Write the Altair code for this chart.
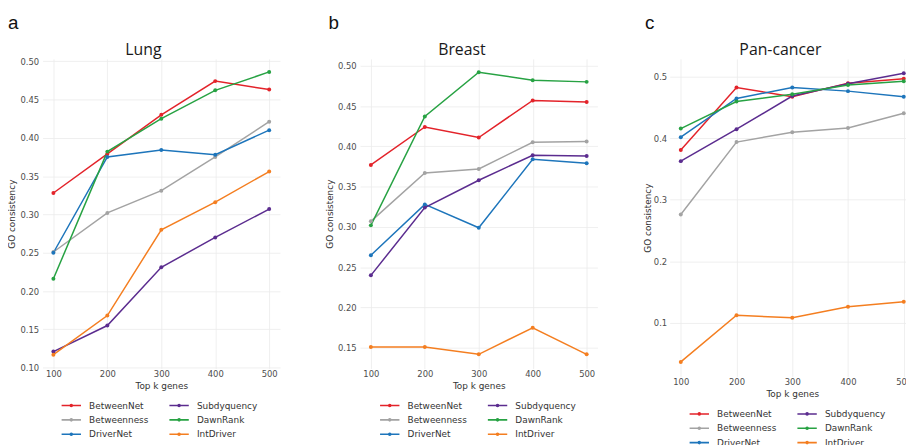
import altair as alt
import pandas as pd

# ---------------- data ----------------
top_k = [100, 200, 300, 400, 500]
methods = ["BetweenNet", "Betweenness", "DriverNet", "Subdyquency", "DawnRank", "IntDriver"]
method_colors = ["#E3232A", "#A3A3A3", "#1D75BB", "#5B2C8F", "#27A243", "#F47E20"]

lung_betweennet = [0.328, 0.379, 0.430, 0.474, 0.463]
lung_betweenness = [0.251, 0.302, 0.331, 0.375, 0.421]
lung_drivernet = [0.250, 0.375, 0.384, 0.378, 0.410]
lung_subdyquency = [0.121, 0.155, 0.231, 0.270, 0.307]
lung_dawnrank = [0.216, 0.382, 0.425, 0.462, 0.486]
lung_intdriver = [0.117, 0.168, 0.280, 0.316, 0.356]

breast_betweennet = [0.377, 0.424, 0.411, 0.457, 0.455]
breast_betweenness = [0.307, 0.367, 0.372, 0.405, 0.406]
breast_drivernet = [0.265, 0.328, 0.299, 0.384, 0.379]
breast_subdyquency = [0.240, 0.324, 0.358, 0.389, 0.388]
breast_dawnrank = [0.302, 0.437, 0.492, 0.482, 0.480]
breast_intdriver = [0.151, 0.151, 0.142, 0.175, 0.142]

pan_betweennet = [0.381, 0.483, 0.468, 0.490, 0.497]
pan_betweenness = [0.276, 0.394, 0.410, 0.417, 0.441]
pan_drivernet = [0.402, 0.465, 0.483, 0.477, 0.468]
pan_subdyquency = [0.363, 0.415, 0.469, 0.489, 0.506]
pan_dawnrank = [0.416, 0.460, 0.472, 0.487, 0.493]
pan_intdriver = [0.036, 0.112, 0.108, 0.126, 0.134]

lung_ticks = [0.10, 0.15, 0.20, 0.25, 0.30, 0.35, 0.40, 0.45, 0.50]
breast_ticks = [0.15, 0.20, 0.25, 0.30, 0.35, 0.40, 0.45, 0.50]
pan_ticks = [0.1, 0.2, 0.3, 0.4, 0.5]

lung = [lung_betweennet, lung_betweenness, lung_drivernet, lung_subdyquency, lung_dawnrank, lung_intdriver]
breast = [breast_betweennet, breast_betweenness, breast_drivernet, breast_subdyquency, breast_dawnrank, breast_intdriver]
pan = [pan_betweennet, pan_betweenness, pan_drivernet, pan_subdyquency, pan_dawnrank, pan_intdriver]

SYMBOL = "M-1.4,0L1.4,0M-0.15,0A0.15,0.15,0,1,1,0.15,0A0.15,0.15,0,1,1,-0.15,0"


def panel(title, letter, series, ydomain, yticks, yfmt, width, height, xdomain,
          legend_x, legend_y, letter_x, title_x, ytitle_pad, ylabel_pad):
    rows = []
    for m, vals in zip(methods, series):
        for k, v in zip(top_k, vals):
            rows.append({"k": k, "method": m, "value": v})
    df = pd.DataFrame(rows)

    x = alt.X("k:Q",
              scale=alt.Scale(domain=xdomain, nice=False, zero=False),
              axis=alt.Axis(values=top_k, title="Top k genes", format="d",
                            labelPadding=1, titlePadding=4))
    y = alt.Y("value:Q",
              scale=alt.Scale(domain=ydomain, nice=False, zero=False),
              axis=alt.Axis(values=yticks, format=yfmt, title="GO consistency",
                            labelPadding=ylabel_pad, titlePadding=ytitle_pad))
    cscale = alt.Scale(domain=methods, range=method_colors)

    lines = alt.Chart(df).mark_line(strokeWidth=1.5).encode(
        x=x, y=y,
        color=alt.Color("method:N", scale=cscale, sort=methods,
                        legend=alt.Legend(
                            orient="none", legendX=legend_x, legendY=legend_y,
                            columns=2, title=None, padding=0,
                            symbolType=SYMBOL, symbolSize=196,
                            symbolStrokeWidth=1.6, labelOffset=10,
                            rowPadding=1.5, columnPadding=18,
                            labelFont="DejaVu Sans", labelFontSize=9,
                            labelColor="#333333")),
        order="k:Q",
    )
    pts = alt.Chart(df).mark_circle(size=16, opacity=1).encode(
        x=x, y=y,
        color=alt.Color("method:N", scale=cscale, legend=None),
    )
    lab = alt.Chart(pd.DataFrame({"t": [letter]})).mark_text(
        font="Liberation Sans", fontSize=19, align="left", baseline="alphabetic",
        color="#111111"
    ).encode(text="t:N", x=alt.value(letter_x), y=alt.value(-30.5))
    ttl = alt.Chart(pd.DataFrame({"t": [title]})).mark_text(
        font="Open Sans", fontSize=16, align="center", baseline="alphabetic",
        color="#1a1a1a"
    ).encode(text="t:N", x=alt.value(title_x), y=alt.value(-4))

    return alt.layer(lines, pts, lab, ttl).properties(width=width, height=height)


pa = panel("Lung", "a", lung, [0.099, 0.503], lung_ticks, ".2f", 240, 313,
           [80, 520], 21, 342.5, -35, 102, 3, 4)
pb = panel("Breast", "b", breast, [0.1245, 0.5085], breast_ticks, ".2f", 240, 313,
           [80, 520], 22, 342.5, -32, 103, 3, 4)
pc = panel("Pan-cancer", "c", pan, [0.0125, 0.5295], pan_ticks, ".1f", 248, 321,
           [80, 520], 22, 351, -25, 112, 1, 3)

chart = alt.hconcat(pa, pb, pc, spacing=46).resolve_scale(
    color="independent", x="independent", y="independent"
).resolve_legend(color="independent").properties(
    padding={"left": 0, "top": 3, "right": -9, "bottom": 0}
).configure_view(stroke=None).configure_axis(
    grid=True, gridColor="#EBEBEB", gridWidth=0.8, domain=False, ticks=False,
    labelFont="DejaVu Sans", labelFontSize=8.5, labelColor="#4D4D4D",
    titleFont="DejaVu Sans", titleFontSize=9, titleFontWeight="normal",
    titleColor="#333333"
)

chart.save("out.html", embed_options={"renderer": "svg", "actions": False})
